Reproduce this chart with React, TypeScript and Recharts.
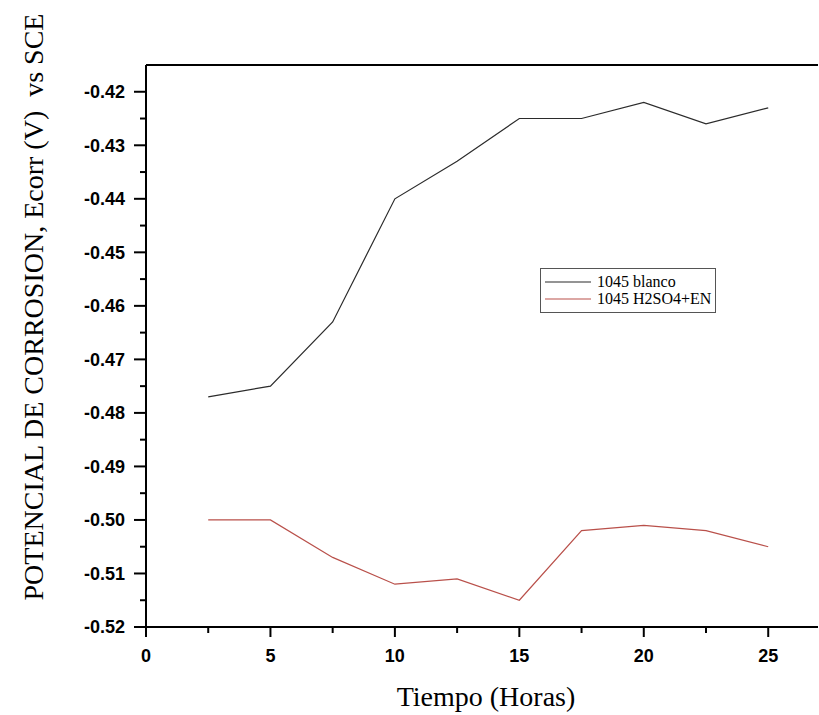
import React from "react";
import { LineChart, Line, XAxis, YAxis, ReferenceLine } from "recharts";

const tiempo = [2.5, 5, 7.5, 10, 12.5, 15, 17.5, 20, 22.5, 25];
const blanco = [-0.477, -0.475, -0.463, -0.44, -0.433, -0.425, -0.425, -0.422, -0.426, -0.423];
const h2so4 = [-0.5, -0.5, -0.507, -0.512, -0.511, -0.515, -0.502, -0.501, -0.502, -0.505];
const xTicks = [0, 2.5, 5, 7.5, 10, 12.5, 15, 17.5, 20, 22.5, 25];
const yTicks = [-0.52, -0.515, -0.51, -0.505, -0.5, -0.495, -0.49, -0.485, -0.48, -0.475, -0.47, -0.465, -0.46, -0.455, -0.45, -0.445, -0.44, -0.435, -0.43, -0.425, -0.42];
const seriesNames = ["1045 blanco", "1045 H2SO4+EN"];
const colors = ["#2b2b2b", "#b9504a"];

const data = tiempo.map((t, i) => ({ t, a: blanco[i], b: h2so4[i] }));

const tickFont = "'Liberation Sans', Arial, sans-serif";
const serif = "'Liberation Serif', 'Times New Roman', serif";

const XTick = (props: any) => {
  const { x, y, payload } = props;
  const v = payload.value;
  const major = Math.abs(v % 5) < 1e-6;
  return (
    <g>
      <line x1={x} x2={x} y1={y} y2={y + (major ? 10 : 6)} stroke="#000" strokeWidth={2} />
      {major && (
        <text x={x} y={y + 35} textAnchor="middle" fontFamily={tickFont} fontWeight="bold" fontSize={18} fill="#000">
          {v}
        </text>
      )}
    </g>
  );
};

const YTick = (props: any) => {
  const { x, y, payload } = props;
  const v = payload.value;
  const major = Math.abs(Math.round(v * 1000)) % 10 === 0;
  return (
    <g>
      <line x1={x} x2={x - (major ? 12 : 6)} y1={y} y2={y} stroke="#000" strokeWidth={2} />
      {major && (
        <text x={x - 21} y={y} dy="0.36em" textAnchor="end" fontFamily={tickFont} fontWeight="bold" fontSize={18} fill="#000">
          {v.toFixed(2)}
        </text>
      )}
    </g>
  );
};

const LegendBox = () => (
  <div
    style={{
      position: "absolute",
      left: 540,
      top: 268,
      border: "1px solid #555",
      background: "#fff",
      padding: "4px 4px 5px 3px",
      fontFamily: serif,
      fontSize: 16,
      lineHeight: "17px",
      whiteSpace: "nowrap",
    }}
  >
    {seriesNames.map((n, i) => (
      <div key={n} style={{ display: "flex", alignItems: "center" }}>
        <svg width={48} height={10} style={{ marginRight: 5 }}>
          <line x1={1} x2={47} y1={5} y2={5} stroke={colors[i]} strokeWidth={1.2} />
        </svg>
        <span>{n}</span>
      </div>
    ))}
  </div>
);

export default function App() {
  return (
    <div style={{ position: "absolute", left: 0, top: 0, width: 819, height: 715, background: "#fff" }}>
      <LineChart width={819} height={715} data={data} margin={{ top: 65, right: 1, bottom: 0, left: 0 }}>
        <XAxis
          dataKey="t"
          type="number"
          domain={[0, 27]}
          ticks={xTicks}
          tickSize={0}
          tickMargin={0}
          tick={<XTick />}
          axisLine={{ stroke: "#000", strokeWidth: 2 }}
          interval={0}
          height={88}
          allowDataOverflow
        />
        <YAxis
          type="number"
          domain={[-0.52, -0.415]}
          ticks={yTicks}
          width={146}
          tickSize={0}
          tickMargin={0}
          tick={<YTick />}
          axisLine={{ stroke: "#000", strokeWidth: 2 }}
          interval={0}
          allowDataOverflow
        />
        <ReferenceLine y={-0.415} stroke="#000" strokeWidth={2} ifOverflow="extendDomain" />
        <Line dataKey="a" name={seriesNames[0]} stroke={colors[0]} strokeWidth={1.2} dot={false} isAnimationActive={false} />
        <Line dataKey="b" name={seriesNames[1]} stroke={colors[1]} strokeWidth={1.2} dot={false} isAnimationActive={false} />
        <text x={486} y={706} textAnchor="middle" fontFamily={serif} fontSize={28} fill="#000">
          Tiempo (Horas)
        </text>
        <text
          x={43}
          y={307}
          transform="rotate(-90 43 307)"
          textAnchor="middle"
          fontFamily={serif}
          fontSize={28}
          fill="#000"
          style={{ whiteSpace: "pre" }}
        >
          POTENCIAL DE CORROSION, Ecorr (V)  vs SCE
        </text>
      </LineChart>
      <LegendBox />
    </div>
  );
}
